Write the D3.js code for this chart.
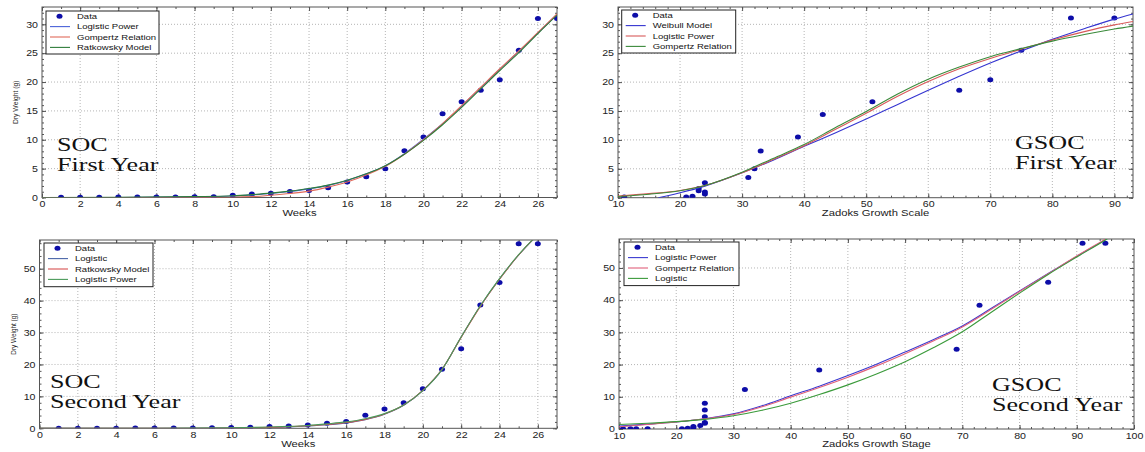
<!DOCTYPE html>
<html><head><meta charset="utf-8">
<script src="https://cdn.jsdelivr.net/npm/d3@7"></script>
<style>body{margin:0;background:#fff}svg{display:block}text{font-family:"Liberation Sans",Arial,sans-serif}</style>
</head><body><svg id="c" width="1145" height="452"></svg>
<script>
// ---------- tick labels ----------
const weekTicks = [0,2,4,6,8,10,12,14,16,18,20,22,24,26];
const zadoksFirstTicks = [10,20,30,40,50,60,70,80,90];
const zadoksSecondTicks = [10,20,30,40,50,60,70,80,90,100];
const firstYearYTicks = [0,5,10,15,20,25,30];
const secondYearYTicks = [0,10,20,30,40,50];

// ---------- SOC first year (weeks) ----------
const socFirstWeeks = [1,2,3,4,5,6,7,8,9,10,11,12,13,14,15,16,17,18,19,20,21,22,23,24,25,26,27];
const socFirstData  = [0.05,0.05,0.05,0.08,0.08,0.1,0.1,0.14,0.14,0.38,0.6,0.73,1.05,1.2,1.7,2.7,3.6,5.0,8.1,10.5,14.5,16.6,18.6,20.4,25.5,31.0,31.0];
const socFirstCurveX = [0,4,8,10,11,12,13,14,15,16,17,18,19,20,21,22,23,24,25,26,27];
const socFirstLogisticPower = [0,0.01,0.1,0.25,0.45,0.7,1.05,1.5,2.1,2.95,4.1,5.5,7.6,10.1,12.8,15.8,19.0,22.2,25.3,28.5,31.7];
const socFirstGompertz      = [0,0,0.01,0.05,0.15,0.4,0.7,1.1,1.8,2.7,3.9,5.4,7.5,10.0,12.8,15.9,19.1,22.3,25.4,28.6,31.8];
const socFirstRatkowsky     = [0,0.02,0.15,0.3,0.5,0.75,1.1,1.55,2.15,3.0,4.1,5.5,7.5,9.9,12.6,15.6,18.8,22.0,25.1,28.4,31.6];

// ---------- GSOC first year (Zadoks) ----------
const gsocFirstZ    = [11,21,22,23,23,24,24,24,31,32,33,39,43,51,65,70,75,83,90];
const gsocFirstData = [0.1,0.1,0.25,1.2,1.6,0.65,1.0,2.6,3.5,5.0,8.1,10.5,14.4,16.6,18.6,20.4,25.5,31.1,31.1];
const gsocFirstWeibullX = [16.5,18,20,24,30,35,40,45,50,55,60,65,70,75,80,85,90,93];
const gsocFirstWeibull  = [0,0.35,0.85,2.0,4.3,6.5,8.9,11.2,13.6,16.1,18.6,21.0,23.3,25.4,27.4,29.2,30.9,31.8];
const gsocFirstCurveX = [10,15,20,24,30,35,40,45,50,55,60,65,70,75,80,85,90,93];
const gsocFirstLogisticPower = [0.3,0.7,1.25,2.1,4.3,6.6,9.0,11.8,14.6,17.5,20.1,22.3,24.1,25.7,27.3,28.7,29.9,30.5];
const gsocFirstGompertz      = [0.2,0.6,1.2,2.1,4.4,6.8,9.2,12.1,14.9,17.9,20.5,22.6,24.4,25.8,27.1,28.2,29.2,29.7];

// ---------- SOC second year (weeks) ----------
const socSecondWeeks = [1,2,3,4,5,6,7,8,9,10,11,12,13,14,15,16,17,18,19,20,21,22,23,24,25,26];
const socSecondData  = [0.05,0.05,0.05,0.05,0.08,0.1,0.1,0.1,0.2,0.25,0.3,0.6,0.7,1.0,1.55,2.1,4.1,6.05,8.0,12.4,18.5,24.9,38.6,45.7,57.8,57.8];
const socSecondCurveX = [0,4,8,10,12,13,14,15,16,17,18,19,20,21,22,23,24,25,26,27];
const socSecondLogistic      = [0,0,0.02,0.08,0.25,0.4,0.7,1.1,1.7,2.7,4.4,7.2,11.8,18.4,28.6,38.3,46.8,54.3,60.5,65.0];
const socSecondRatkowsky     = [0,0,0.03,0.1,0.3,0.5,0.8,1.2,1.8,2.8,4.5,7.3,11.9,18.5,28.5,38.2,46.7,54.3,60.6,65.0];
const socSecondLogisticPower = [0,0,0.05,0.15,0.4,0.6,0.9,1.4,2.0,3.0,4.6,7.3,11.8,18.4,28.6,38.4,46.9,54.4,60.6,65.0];

// ---------- GSOC second year (Zadoks) ----------
const gsocSecondZ    = [10.7,12,13,15,21,22,23,23,24.2,25,25,25,25,25,32,45,69,73,85,91,95];
const gsocSecondData = [0.1,0.1,0.1,0.05,0.1,0.2,0.4,0.8,1.1,1.8,2.0,3.8,5.9,8.0,12.3,18.3,24.8,38.4,45.6,57.7,57.7];
const gsocSecondCurveX = [10,15,20,25,30,35,40,45,50,55,60,65,70,75,80,85,90,95,97];
const gsocSecondLogisticPower = [0.9,1.5,2.2,3.2,4.7,7.2,10.3,13.3,16.6,20.1,23.9,27.8,32.0,37.4,42.9,48.3,53.6,58.8,61.0];
const gsocSecondGompertz      = [0.7,1.4,2.2,3.2,4.5,6.9,9.9,12.9,16.1,19.6,23.4,27.4,31.7,37.1,42.7,48.2,53.7,59.0,61.2];
const gsocSecondLogistic      = [1.4,1.8,2.3,3.0,4.1,5.8,8.0,10.7,13.7,17.1,20.9,25.3,30.2,36.2,42.2,48.0,53.4,58.7,61.0];

const svg = d3.select("#c");
const SX = 1.25; // horizontal stretch of the source image

function stretch(sel) {
  sel.each(function() {
    const t = d3.select(this);
    const x = +t.attr("x") || 0;
    t.attr("transform", `translate(${x*(1-SX)},0) scale(${SX},1)`);
  });
}

function panel(cfg) {
  const {id, L, R, T, B} = cfg;
  const g = svg.append("g");
  const x = d3.scaleLinear().domain(cfg.xDom).range([L, R]);
  const y = d3.scaleLinear().domain(cfg.yDom).range([B, T]);
  svg.append("clipPath").attr("id", "clip" + id).append("rect")
    .attr("x", L).attr("y", T).attr("width", R - L).attr("height", B - T);

  // grid
  g.append("g").selectAll("line")
    .data(cfg.xTicks.filter(v => v > cfg.xDom[0] && v < cfg.xDom[1]))
    .join("line").attr("x1", d => x(d)).attr("x2", d => x(d)).attr("y1", T).attr("y2", B)
    .attr("stroke", "#b5b5b5").attr("stroke-dasharray", "1,2");
  g.append("g").selectAll("line")
    .data(cfg.yTicks.filter(v => v > cfg.yDom[0] && v < cfg.yDom[1]))
    .join("line").attr("y1", d => y(d)).attr("y2", d => y(d)).attr("x1", L).attr("x2", R)
    .attr("stroke", "#b5b5b5").attr("stroke-dasharray", "1,2");

  // axes
  const minorX = d3.range(cfg.xDom[0], cfg.xDom[1] + 1e-9, cfg.xMinor);
  const minorY = d3.range(cfg.yDom[0], cfg.yDom[1] + 1e-9, cfg.yMinor);
  const axes = [
    [d3.axisBottom(x).tickValues(cfg.xTicks).tickFormat(d3.format("d")).tickPadding(3.5), `translate(0,${B})`, true],
    [d3.axisBottom(x).tickValues(minorX).tickFormat("").tickSizeInner(-2), `translate(0,${B})`, false],
    [d3.axisTop(x).tickValues(cfg.xTicks).tickFormat(""), `translate(0,${T})`, false],
    [d3.axisTop(x).tickValues(minorX).tickFormat("").tickSizeInner(-2), `translate(0,${T})`, false],
    [d3.axisLeft(y).tickValues(cfg.yTicks).tickFormat(d3.format("d")).tickPadding(4), `translate(${L},0)`, true],
    [d3.axisLeft(y).tickValues(minorY).tickFormat("").tickSizeInner(-2), `translate(${L},0)`, false],
    [d3.axisRight(y).tickValues(cfg.yTicks).tickFormat(""), `translate(${R},0)`, false],
    [d3.axisRight(y).tickValues(minorY).tickFormat("").tickSizeInner(-2), `translate(${R},0)`, false]
  ];
  axes.forEach(([ax, tr, labels]) => {
    if (ax.tickSizeInner() === 6) ax.tickSizeInner(-4);
    ax.tickSizeOuter(0);
    const a = g.append("g").attr("transform", tr).call(ax);
    a.select(".domain").remove();
    a.selectAll("line").attr("stroke", "#555");
    a.selectAll("text").attr("font-size", "8.5px").attr("fill", "#222")
      .style("font-family", '"Liberation Sans", Arial, sans-serif');
    if (labels) stretch(a.selectAll("text"));
  });

  // frame
  g.append("rect").attr("x", L).attr("y", T).attr("width", R - L).attr("height", B - T)
    .attr("fill", "none").attr("stroke", "#555").attr("stroke-width", 1);

  // data points
  g.append("g").attr("clip-path", `url(#clip${id})`).selectAll("ellipse")
    .data(d3.zip(cfg.dataX, cfg.dataY)).join("ellipse")
    .attr("cx", d => x(d[0])).attr("cy", d => y(d[1])).attr("rx", 3).attr("ry", 2.5)
    .attr("fill", "#0d0da8");

  // fitted curves
  const line = d3.line().x(d => x(d[0])).y(d => y(d[1])).curve(d3.curveMonotoneX);
  cfg.series.forEach(s => {
    g.append("path").datum(d3.zip(s.x, s.y)).attr("d", line)
      .attr("clip-path", `url(#clip${id})`)
      .attr("fill", "none").attr("stroke", s.color).attr("stroke-width", 1.1);
  });

  // legend
  const lg = cfg.legend;
  const leg = g.append("g");
  leg.append("rect").attr("x", lg.x).attr("y", lg.y).attr("width", lg.w).attr("height", lg.h)
    .attr("fill", "#fff").attr("stroke", "#222").attr("stroke-width", 1);
  const names = ["Data"].concat(cfg.series.map(s => s.name));
  names.forEach((n, i) => {
    const ry = lg.y + 5.2 + i * 10.4;
    if (i === 0) {
      leg.append("ellipse").attr("cx", lg.x + 13.5).attr("cy", ry).attr("rx", 3).attr("ry", 2.5).attr("fill", "#0d0da8");
    } else {
      leg.append("line").attr("x1", lg.x + 4).attr("x2", lg.x + 24).attr("y1", ry).attr("y2", ry)
        .attr("stroke", cfg.series[i - 1].color).attr("stroke-width", 1.1);
    }
    const t = leg.append("text").attr("x", lg.x + 31).attr("y", ry + 2.7)
      .attr("font-size", "7.6px").attr("fill", "#111").text(n);
    stretch(t);
  });

  // annotation (two lines)
  cfg.note.lines.forEach((s, i) => {
    g.append("text")
      .attr("transform", `translate(${cfg.note.x},${cfg.note.y + i * 20}) scale(1.45,1)`)
      .attr("font-size", "18px").attr("fill", "#111")
      .style("font-family", '"Liberation Serif", "Times New Roman", serif')
      .text(s);
  });

  // axis titles
  const xt = g.append("text").attr("x", (L + R) / 2).attr("y", cfg.xTitleY)
    .attr("text-anchor", "middle").attr("font-size", "9px").attr("fill", "#222").text(cfg.xTitle);
  stretch(xt);
  if (cfg.yTitle) {
    g.append("text").attr("transform", `translate(${cfg.yTitleX},${(T + B) / 2}) rotate(-90)`)
      .attr("text-anchor", "middle").attr("font-size", cfg.yTitleSize).attr("fill", "#222")
      .text(cfg.yTitle);
  }
}

panel({
  id: 1, L: 42, R: 557, T: 7, B: 197.5, xDom: [0, 27], yDom: [0, 33],
  xTicks: weekTicks, yTicks: firstYearYTicks, xMinor: 1, yMinor: 1,
  dataX: socFirstWeeks, dataY: socFirstData,
  series: [
    {name: "Logistic Power", color: "#4a62d8", x: socFirstCurveX, y: socFirstLogisticPower},
    {name: "Gompertz Relation", color: "#e06a5a", x: socFirstCurveX, y: socFirstGompertz},
    {name: "Ratkowsky Model", color: "#2f7d3a", x: socFirstCurveX, y: socFirstRatkowsky}
  ],
  legend: {x: 46, y: 11, w: 113, h: 43},
  note: {x: 57, y: 150.5, lines: ["SOC", "First Year"]},
  xTitle: "Weeks", xTitleY: 216.5, yTitle: "Dry Weight (g)", yTitleX: 18, yTitleSize: "6.8px"
});

panel({
  id: 2, L: 618, R: 1133, T: 7, B: 197.7, xDom: [10, 93], yDom: [0, 33],
  xTicks: zadoksFirstTicks, yTicks: firstYearYTicks, xMinor: 2, yMinor: 1,
  dataX: gsocFirstZ, dataY: gsocFirstData,
  series: [
    {name: "Weibull Model", color: "#3434d0", x: gsocFirstWeibullX, y: gsocFirstWeibull},
    {name: "Logistic Power", color: "#d85a5a", x: gsocFirstCurveX, y: gsocFirstLogisticPower},
    {name: "Gompertz Relation", color: "#3a8a3a", x: gsocFirstCurveX, y: gsocFirstGompertz}
  ],
  legend: {x: 621.7, y: 10, w: 114, h: 43},
  note: {x: 1015, y: 148.5, lines: ["GSOC", "First Year"]},
  xTitle: "Zadoks Growth Scale", xTitleY: 216.5
});

panel({
  id: 3, L: 39.5, R: 557, T: 240, B: 428.3, xDom: [0, 27], yDom: [0, 59],
  xTicks: weekTicks, yTicks: secondYearYTicks, xMinor: 1, yMinor: 2,
  dataX: socSecondWeeks, dataY: socSecondData,
  series: [
    {name: "Logistic", color: "#4a66a8", x: socSecondCurveX, y: socSecondLogistic},
    {name: "Ratkowsky Model", color: "#d85050", x: socSecondCurveX, y: socSecondRatkowsky},
    {name: "Logistic Power", color: "#4a9a5a", x: socSecondCurveX, y: socSecondLogisticPower}
  ],
  legend: {x: 44, y: 243, w: 109, h: 43.7},
  note: {x: 50, y: 387.5, lines: ["SOC", "Second Year"]},
  xTitle: "Weeks", xTitleY: 447.5, yTitle: "Dry Weight (g)", yTitleX: 16, yTitleSize: "6.4px"
});

panel({
  id: 4, L: 619, R: 1134, T: 239, B: 429, xDom: [10, 100], yDom: [0, 59],
  xTicks: zadoksSecondTicks, yTicks: secondYearYTicks, xMinor: 2, yMinor: 2,
  dataX: gsocSecondZ, dataY: gsocSecondData,
  series: [
    {name: "Logistic Power", color: "#3a3ad0", x: gsocSecondCurveX, y: gsocSecondLogisticPower},
    {name: "Gompertz Relation", color: "#e0607a", x: gsocSecondCurveX, y: gsocSecondGompertz},
    {name: "Logistic", color: "#3a9a3a", x: gsocSecondCurveX, y: gsocSecondLogistic}
  ],
  legend: {x: 624, y: 242, w: 115, h: 43.6},
  note: {x: 992, y: 390.7, lines: ["GSOC", "Second Year"]},
  xTitle: "Zadoks Growth Stage", xTitleY: 447.5
});
</script></body></html>
